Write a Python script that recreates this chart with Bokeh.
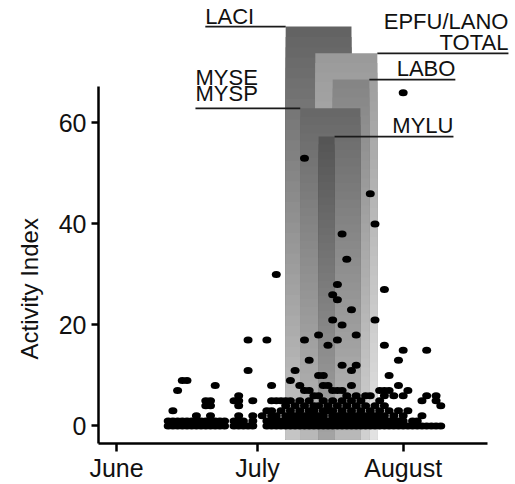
import numpy as np
from bokeh.plotting import figure
from bokeh.models import FixedTicker, Title
from bokeh.core.properties import value
from bokeh.embed import file_html
from bokeh.resources import INLINE

# x = days counted from June 1
month_ticks = [0, 30, 61]
month_labels = ["June", "July", "August"]
activity_ticks = [0, 20, 40, 60]

# nightly activity index, grouped by day
column_days = [11, 12, 13, 14, 15, 16, 17, 18, 19, 20, 21, 22, 23, 25, 26, 27, 28, 29, 31,
               32, 33, 34, 35, 36, 37, 38, 39, 40, 41, 42, 43, 44, 45, 46, 47, 48, 49, 50,
               51, 52, 53, 54, 55, 56, 57, 58, 59, 60, 61, 62, 63, 64, 65, 66, 67, 68, 69]
column_values = [
    [0, 1], [0, 1, 3], [0, 1, 7], [0, 1, 9], [0, 1, 9], [0, 1], [0, 1, 2], [0, 1],
    [0, 1, 4, 5], [0, 1, 2, 4, 5], [0, 1, 8], [0, 1], [0, 1],
    [0, 1, 5], [0, 1, 2, 4, 5, 6], [0, 1], [0, 11, 17], [0, 1, 2, 5],
    [2],
    [0, 1, 3, 17], [0, 1, 2, 3, 5, 8], [0, 1, 2, 5, 30], [0, 1, 3, 5], [0, 1, 2, 4, 5],
    [0, 1, 2, 3, 5, 9], [0, 1, 2, 4, 11], [0, 1, 2, 3, 5, 8], [0, 1, 2, 4, 7, 17, 53],
    [0, 1, 2, 3, 5, 7, 13], [0, 1, 2, 3, 4, 6], [0, 1, 2, 4, 6, 10, 18], [0, 1, 2, 3, 5, 8, 10],
    [0, 1, 3, 4, 8, 16], [0, 1, 2, 3, 5, 7, 21, 26], [0, 1, 2, 4, 7, 17, 25, 28],
    [0, 1, 2, 3, 5, 7, 12, 20, 38], [0, 1, 2, 4, 6, 33], [0, 1, 2, 3, 5, 8, 11, 23],
    [0, 1, 2, 4, 6, 12, 18], [0, 1, 2, 3, 5], [0, 1, 2, 4, 6], [0, 1, 2, 3, 6, 46],
    [0, 1, 2, 4, 21, 40], [0, 1, 2, 3, 5, 7], [0, 1, 2, 4, 6, 7, 16, 27], [0, 1, 3, 7, 10],
    [0, 1, 2, 6], [0, 1, 3, 8, 13], [0, 1, 2, 6, 15, 66], [0, 3, 7], [0, 1], [0, 1],
    [0, 2, 5], [0, 6, 15], [0], [0, 5, 6], [0, 4],
]

# species activity windows (days from June 1) and their heights
band_names = ["LACI", "EPFU/LANO\nTOTAL", "LABO", "MYSE\nMYSP", "MYLU"]
band_start = [36.0, 42.3, 46.0, 39.1, 43.0]
band_end = [50.0, 55.5, 53.8, 51.9, 46.4]
band_top = [79.1, 73.8, 68.6, 62.9, 57.3]
band_bottom = -2.7

# styling of bands (gray level at top / bottom of gradient)
band_gray_top = [99, 154, 133, 104, 85]
band_gray_bottom = [200, 228, 210, 186, 165]
label_anchor = [18.9, 83.4, 72.1, 16.8, 71.7]
label_side = ["left", "right", "right", "left", "right"]
line_offsets = [[-10], [-11, -32], [-11], [-14.5, -30.5], [-11]]

FONT = "Liberation Sans"

p = figure(width=515, height=484, x_range=(-3.83, 84.9), y_range=(-3.48, 84.26),
           output_backend="svg", toolbar_location=None,
           min_border_left=98, min_border_right=0, min_border_top=0, min_border_bottom=38)
p.outline_line_color = None
p.grid.visible = False
p.background_fill_color = "white"
p.border_fill_color = "white"

# gradient bands
ql, qr, qb, qt, qc = [], [], [], [], []
N = 40
for i in range(len(band_names)):
    levels = np.linspace(band_top[i], band_bottom, N, endpoint=False)
    for lv in levels:
        frac = (lv - band_bottom) / (band_top[i] - band_bottom)
        g = int(round(band_gray_bottom[i] + (band_gray_top[i] - band_gray_bottom[i]) * frac))
        ql.append(band_start[i]); qr.append(band_end[i])
        qb.append(band_bottom); qt.append(lv)
        qc.append("#%02x%02x%02x" % (g, g, g))
p.quad(left=ql, right=qr, bottom=qb, top=qt, fill_color=qc, line_color=None)

# leader lines
sx0, sx1, sy = [], [], []
for i in range(len(band_names)):
    if label_side[i] == "left":
        sx0.append(label_anchor[i]); sx1.append(band_start[i])
    else:
        sx0.append(band_end[i]); sx1.append(label_anchor[i])
    sy.append(band_top[i])
p.segment(x0=sx0, y0=sy, x1=sx1, y1=sy, line_color="#1a1a1a", line_width=1.8)

# observations
dot_x = [d for d, vals in zip(column_days, column_values) for v in vals]
dot_y = [v for d, vals in zip(column_days, column_values) for v in vals]
p.ellipse(x=dot_x, y=dot_y, width=9, height=7, width_units="screen", height_units="screen",
          fill_color="black", line_color=None)

# band labels
for i, name in enumerate(band_names):
    lines = name.split("\n")[::-1]
    for k, txt in enumerate(lines):
        p.text(x=[label_anchor[i]], y=[band_top[i]], text=[txt],
               text_align=label_side[i], text_baseline="alphabetic",
               y_offset=line_offsets[i][k], text_font=value(FONT),
               text_font_size="22px", text_color="#111111")

# axes
for ax in (p.xaxis[0], p.yaxis[0]):
    ax.axis_line_width = 2.5
    ax.axis_line_color = "black"
    ax.major_tick_line_width = 2.5
    ax.major_tick_line_color = "black"
    ax.major_tick_in = 0
    ax.minor_tick_in = 0
    ax.minor_tick_out = 0
    ax.major_label_text_font = FONT
    ax.major_label_text_font_size = "25px"
    ax.major_label_text_color = "#111111"

p.xaxis.ticker = FixedTicker(ticks=month_ticks)
p.xaxis.major_label_overrides = {t: l for t, l in zip(month_ticks, month_labels)}
p.xaxis.major_tick_out = 8
p.xaxis.major_label_standoff = 2
p.xaxis.bounds = (-3.83, 78.9)

p.yaxis.ticker = FixedTicker(ticks=activity_ticks)
p.yaxis.major_tick_out = 7
p.yaxis.major_label_standoff = 5
p.yaxis.bounds = (-3.48, 67.3)

p.add_layout(Title(text="Activity Index", align="left", offset=84, standoff=25,
                   text_font=FONT, text_font_size="24px", text_font_style="normal",
                   text_color="#111111"), "left")

open("out.html", "w").write(file_html(p, INLINE))
